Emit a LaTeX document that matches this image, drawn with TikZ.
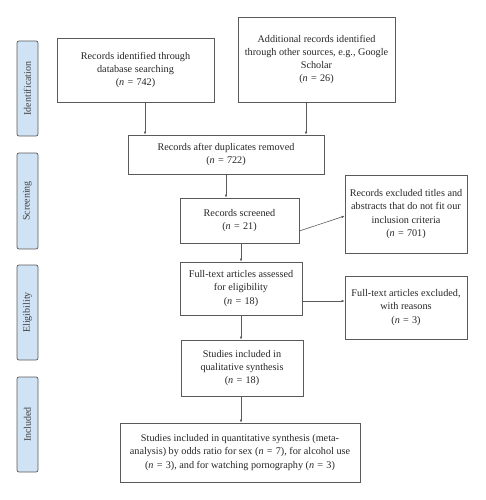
\documentclass[tikz,border=0pt]{standalone}
\usepackage{fontspec}
\setmainfont{Liberation Serif}
\usepackage{tikz}
\usetikzlibrary{positioning}
\usetikzlibrary{arrows.meta}

\definecolor{phaseblue}{HTML}{CFE3F5}
\definecolor{boxgray}{HTML}{5A5A5A}

\newcommand{\numn}[1]{(\textit{n}\hspace{0.32em}=\hspace{0.32em}#1)}

\tikzset{
  flowbox/.style={draw=boxgray, line width=0.7pt, align=center, inner sep=1pt,
    font=\fontsize{10.2}{13.3}\selectfont, text=black!85},
  phase/.style={draw=boxgray, fill=phaseblue, rounded corners=2pt, line width=0.7pt,
    minimum height=21pt, rotate=90, font=\fontsize{10}{12}\selectfont, text=black!75},
  arr/.style={-{Latex[length=3pt,width=2.6pt]}, draw=boxgray, line width=0.6pt}
}

\begin{document}
\begin{tikzpicture}[x=1pt,y=-1pt]
  \useasboundingbox (0,0) rectangle (485,500);

  % phases
  \node[phase, minimum width=95pt] (ident) at (27.5,88.5) {Identification};
  \node[phase, minimum width=96pt] (screen) at (27.5,201) {Screening};
  \node[phase, minimum width=95pt] (elig) at (27.5,312.5) {Eligibility};
  \node[phase, minimum width=95pt] (incl) at (27.5,424.5) {Included};

  % identification
  \node[flowbox, minimum width=157pt, minimum height=64pt] (dbs) at (135.5,70)
    {Records identified through\\database searching\\\numn{742}};
  \node[flowbox, minimum width=157pt, minimum height=85pt] (other) at (316.5,59.5)
    {Additional records identified\\through other sources, e.g., Google\\Scholar\\\numn{26}};

  % screening
  \node[flowbox, minimum width=196pt, minimum height=39pt] (dup) at (226,154.5)
    {Records after duplicates removed\\\numn{722}};
  \node[flowbox, minimum width=119pt, minimum height=45pt] (scr) at (239.5,220.5)
    {Records screened\\\numn{21}};
  \node[flowbox, minimum width=122pt, minimum height=78pt] (exca) at (406,214)
    {Records excluded titles and\\abstracts that do not fit our\\inclusion criteria\\\numn{701}};

  % eligibility
  \node[flowbox, minimum width=122pt, minimum height=53pt] (full) at (241,288.5)
    {Full-text articles assessed\\for eligibility\\\numn{18}};
  \node[flowbox, minimum width=122pt, minimum height=63pt] (excb) at (406,307.5)
    {Full-text articles excluded,\\with reasons\\\numn{3}};

  % included
  \node[flowbox, minimum width=122pt, minimum height=56pt] (qual) at (242,368)
    {Studies included in\\qualitative synthesis\\\numn{18}};
  \node[flowbox, minimum width=240pt, minimum height=59pt] (quant) at (240,452.5)
    {Studies included in quantitative synthesis (meta-\\analysis) by odds ratio for sex \numn{7}, for alcohol use\\\numn{3}, and for watching pornography \numn{3}};

  % arrows
  \draw[arr] ([xshift=9.5pt]dbs.south) -- ([xshift=9.5pt]dbs.south |- dup.north);
  \draw[arr] ([xshift=-10.5pt]other.south) -- ([xshift=-10.5pt]other.south |- dup.north);
  \draw[arr] (dup.south) -- (dup.south |- scr.north);
  \draw[arr] ([yshift=-10.5pt]scr.east) -- ([yshift=-2pt]exca.west);
  \draw[arr] (scr.south -| full) -- (full.north);
  \draw[arr] ([yshift=-12.5pt]full.east) -- ([yshift=-12.5pt]full.east -| excb.west);
  \draw[arr] (full.south) -- (full.south |- qual.north);
  \draw[arr] ([xshift=-1pt]qual.south) -- ([xshift=-1pt]qual.south |- quant.north);
\end{tikzpicture}
\end{document}
